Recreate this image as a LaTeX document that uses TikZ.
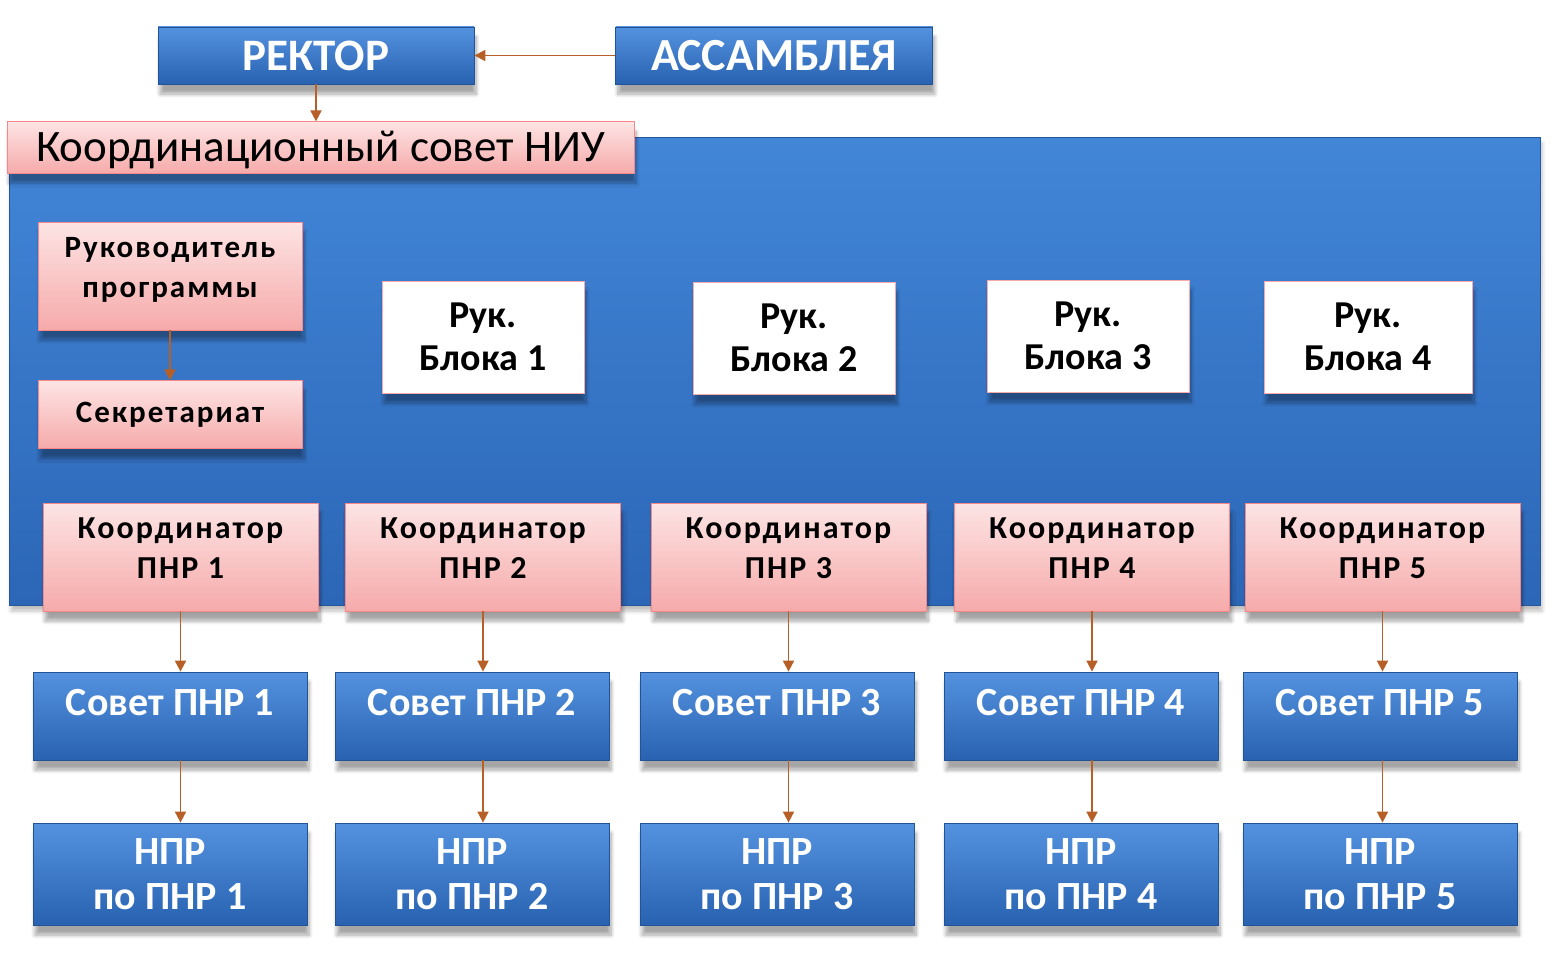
\documentclass[tikz,border=0pt]{standalone}
\usepackage{fontspec}
\setmainfont{Carlito}
\newfontfamily\spacedfont{Carlito}[LetterSpace=6.5]
\usetikzlibrary{calc,arrows.meta,positioning,shadows,shadows.blur}
\definecolor{bluetop}{RGB}{84,146,224}
\definecolor{bluebot}{RGB}{40,98,176}
\definecolor{paneltop}{RGB}{66,134,216}
\definecolor{panelbot}{RGB}{44,102,182}
\definecolor{pinktop}{RGB}{253,228,228}
\definecolor{pinkbot}{RGB}{246,170,170}
\definecolor{arrbrown}{RGB}{182,96,40}
\tikzset{
  box/.style={align=center, inner sep=2pt, font=\bfseries,
    blur shadow={shadow xshift=1pt, shadow yshift=-5pt, shadow opacity=35, shadow blur steps=8}},
  bluebox/.style={box, top color=bluetop, bottom color=bluebot, draw=bluebot!85!black,
    line width=0.4pt, text=white},
  pinkbox/.style={box, top color=pinktop, bottom color=pinkbot, draw=pinkbot!80!red,
    line width=0.4pt, text=black},
  whitebox/.style={box, fill=white, draw=pinkbot, line width=0.4pt, text=black},
  panel/.style={top color=paneltop, bottom color=panelbot, draw=panelbot!85!black,
    line width=0.4pt, inner sep=0pt,
    blur shadow={shadow xshift=1pt, shadow yshift=-3pt, shadow opacity=25}},
  coordbox/.style={pinkbox, minimum width=137.5pt, minimum height=54pt, text depth=8.5pt,
    font=\spacedfont\bfseries\fontsize{16}{20}\selectfont},
  sovetbox/.style={bluebox, minimum width=137pt, minimum height=44pt, text depth=14pt,
    font=\bfseries\fontsize{20}{22}\selectfont},
  nprbox/.style={bluebox, minimum width=137pt, minimum height=51pt,
    font=\bfseries\fontsize{20}{22.5}\selectfont},
  blokbox/.style={whitebox, minimum width=101pt, minimum height=56pt,
    font=\bfseries\fontsize{19}{21.5}\selectfont},
  arr/.style={-{Triangle[length=5.5pt,width=5.5pt]}, arrbrown, line width=0.9pt}
}
\begin{document}
\begin{tikzpicture}[x=0.5pt, y=-0.5pt]
  \useasboundingbox (0,0) rectangle (1556,963);

  % top row
  \node[bluebox, minimum width=158pt, minimum height=28.5pt,
    font=\bfseries\fontsize{22.5}{24}\selectfont] (rektor) at (316,55.5) {РЕКТОР};
  \node[bluebox, right=70.5pt of rektor, minimum width=158.5pt, minimum height=28.5pt,
    font=\bfseries\fontsize{23}{24}\selectfont] (assam) {АССАМБЛЕЯ};
  \draw[arr] (assam.west) -- (rektor.east);

  % coordination council: blue panel with pink title
  \node[panel, minimum width=765.5pt, minimum height=234pt] (panel) at (774.5,371) {};
  \node[pinkbox, minimum width=313.5pt, minimum height=24.5pt, text height=18pt,
    font=\fontsize{22.5}{24}\selectfont] (kcouncil) at (320.5,147.5) {Координационный совет НИУ};
  \draw[arr] (rektor.south) -- (rektor.south |- kcouncil.north);

  % programme head and secretariat
  \node[pinkbox, minimum width=132pt, minimum height=54pt, text depth=8.5pt,
    font=\spacedfont\bfseries\fontsize{15.5}{20}\selectfont] (rukprog) at (170,276) {Руководитель\\программы};
  \node[pinkbox, below=25pt of rukprog, minimum width=132pt, minimum height=34pt,
    font=\spacedfont\bfseries\fontsize{15.5}{18}\selectfont] (sekr) {Секретариат};
  \draw[arr] (rukprog.south) -- (sekr.north);

  % block heads
  \node[blokbox] (blok1) at (483,337) {Рук.\\Блока 1};
  \node[blokbox] (blok2) at (794,338) {Рук.\\Блока 2};
  \node[blokbox] (blok3) at (1088,336) {Рук.\\Блока 3};
  \node[blokbox, minimum width=104pt] (blok4) at (1368,337) {Рук.\\Блока 4};

  % coordinators of the PNR
  \node[coordbox] (coord1) at (180.5,557) {Координатор\\ПНР 1};
  \node[coordbox] (coord2) at (483,557) {Координатор\\ПНР 2};
  \node[coordbox] (coord3) at (788.5,557) {Координатор\\ПНР 3};
  \node[coordbox] (coord4) at (1092,557) {Координатор\\ПНР 4};
  \node[coordbox] (coord5) at (1382.5,557) {Координатор\\ПНР 5};

  % PNR councils
  \node[sovetbox] (sovet1) at (170,716) {Совет ПНР 1};
  \node[sovetbox] (sovet2) at (472,716) {Совет ПНР 2};
  \node[sovetbox] (sovet3) at (777,716) {Совет ПНР 3};
  \node[sovetbox] (sovet4) at (1081,716) {Совет ПНР 4};
  \node[sovetbox] (sovet5) at (1380,716) {Совет ПНР 5};

  % staff per PNR
  \node[nprbox] (npr1) at (170,874) {НПР\\по ПНР 1};
  \node[nprbox] (npr2) at (472,874) {НПР\\по ПНР 2};
  \node[nprbox] (npr3) at (777,874) {НПР\\по ПНР 3};
  \node[nprbox] (npr4) at (1081,874) {НПР\\по ПНР 4};
  \node[nprbox] (npr5) at (1380,874) {НПР\\по ПНР 5};

  \foreach \i in {1,...,5}{
    \draw[arr] (coord\i.south) -- (coord\i.south |- sovet\i.north);
    \draw[arr] (coord\i.south |- sovet\i.south) -- (coord\i.south |- npr\i.north);
  }

\end{tikzpicture}
\end{document}
